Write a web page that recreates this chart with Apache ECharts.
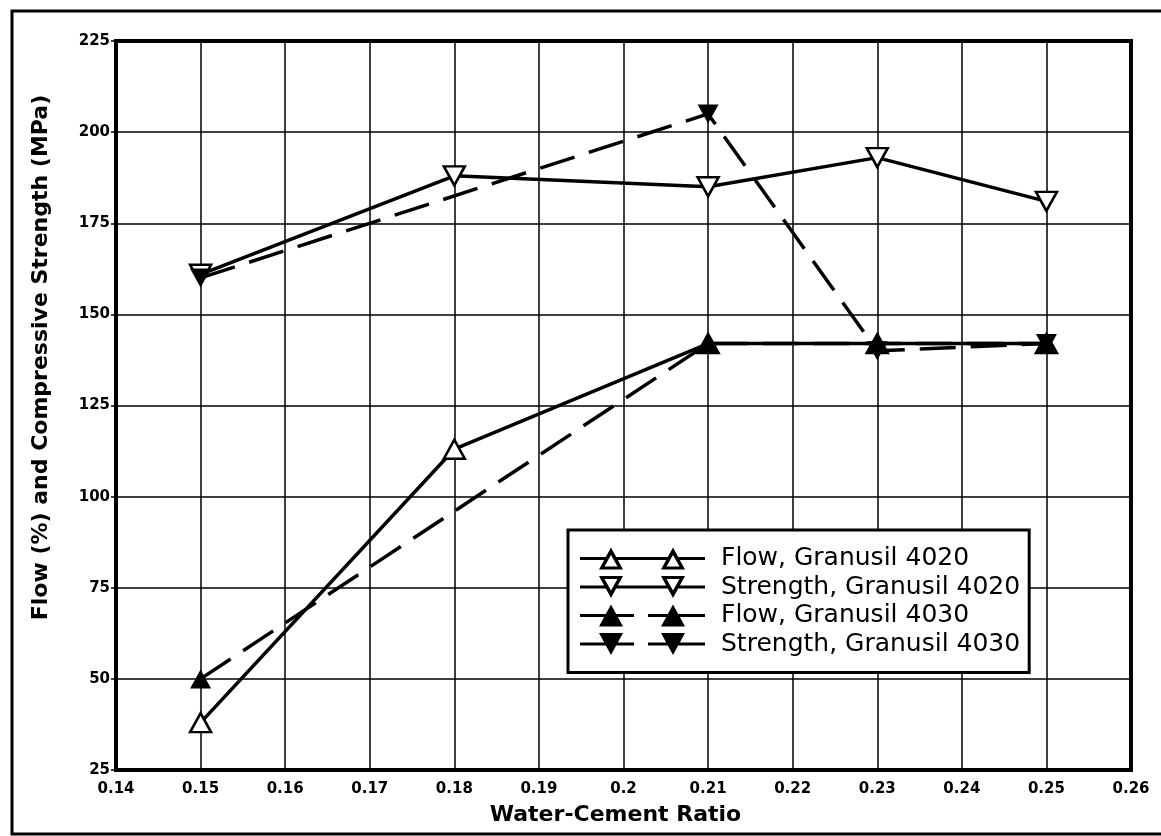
<!DOCTYPE html>
<html>
<head>
<meta charset="utf-8">
<script src="https://cdn.jsdelivr.net/npm/echarts@6/dist/echarts.min.js"></script>
<style>
html,body{margin:0;padding:0;background:#fff;}
#chart{width:1161px;height:836px;}
</style>
</head>
<body>
<div id="chart"></div>
<script>
// ---- data ----
const x4020 = [0.15, 0.18, 0.21, 0.23, 0.25];
const flow4020 = [38, 113, 142, 142, 142];
const strength4020 = [161, 188, 185, 193, 181];
const x4030 = [0.15, 0.21, 0.23, 0.25];
const flow4030 = [50, 142, 142, 142];
const strength4030 = [160, 205, 140, 142];
const seriesNames = ['Flow, Granusil 4020', 'Strength, Granusil 4020', 'Flow, Granusil 4030', 'Strength, Granusil 4030'];
const xTitle = 'Water-Cement Ratio';
const yTitle = 'Flow (%) and Compressive Strength (MPa)';

function pairs(xs, ys) { return xs.map((x, i) => [x, ys[i]]); }

// ---- legend icons (line + two triangles) ----
function rect(x0, x1) { return `M${x0} 9.5 L${x1} 9.5 L${x1} 12.5 L${x0} 12.5 Z `; }
function triUp(cx, open) {
  let p = `M${cx} 0 L${cx + 12} 22 L${cx - 12} 22 Z `;
  if (open) p += `M${cx} 7.5 L${cx - 6.5} 19 L${cx + 6.5} 19 Z `;
  return p;
}
function triDown(cx, open) {
  let p = `M${cx - 12} 0 L${cx + 12} 0 L${cx} 22 Z `;
  if (open) p += `M${cx - 6.5} 3 L${cx} 14.5 L${cx + 6.5} 3 Z `;
  return p;
}
const c1 = 31, c2 = 93;
function solidIcon(tri, open) {
  return 'path://' + rect(0, c1 - 5) + rect(c1 + 5, c2 - 5) + rect(c2 + 5, 125) + tri(c1, open) + tri(c2, open);
}
function dashedIcon(tri) {
  return 'path://' + rect(0, 54) + rect(68, 125) + tri(c1, false) + tri(c2, false);
}
const icons = [solidIcon(triUp, true), solidIcon(triDown, true), dashedIcon(triUp), dashedIcon(triDown)];

const chart = echarts.init(document.getElementById('chart'));

const lineW = 3.5;
const dash = [36, 15];
function mkSeries(name, data, symbolRotate, filled, dashed, z) {
  return {
    name: name,
    type: 'line',
    data: data,
    symbol: 'triangle',
    symbolSize: [21, 19],
    symbolRotate: symbolRotate,
    showSymbol: true,
    z: z,
    lineStyle: { color: '#000', width: lineW, type: dashed ? dash : 'solid' },
    itemStyle: { color: filled ? '#000' : '#fff', borderColor: '#000', borderWidth: filled ? 0 : 2.5 },
    emphasis: { disabled: true },
    animation: false
  };
}

const option = {
  animation: false,
  backgroundColor: '#fff',
  grid: { left: 116, right: 30, top: 41, bottom: 66, show: true, borderColor: '#000', borderWidth: 4 },
  xAxis: {
    type: 'value', min: 0.14, max: 0.26, interval: 0.01,
    name: xTitle, nameLocation: 'middle', nameGap: 34,
    nameTextStyle: { fontFamily: 'DejaVu Sans', fontWeight: 'bold', fontSize: 22, color: '#000', padding: [0, 16, 0, 0] },
    axisLine: { show: true, lineStyle: { color: '#000', width: 4 } },
    axisTick: { show: false },
    splitLine: { show: true, lineStyle: { color: '#000', width: 1.5 } },
    axisLabel: {
      color: '#000', fontFamily: 'DejaVu Sans', fontWeight: 'bold', fontSize: 15, margin: 12,
      formatter: v => String(+v.toFixed(2))
    }
  },
  yAxis: {
    type: 'value', min: 25, max: 225, interval: 25,
    name: yTitle, nameLocation: 'middle', nameGap: 64,
    nameTextStyle: { fontFamily: 'DejaVu Sans', fontWeight: 'bold', fontSize: 22, color: '#000', padding: [0, 0, 0, 96] },
    axisLine: { show: true, lineStyle: { color: '#000', width: 4 } },
    axisTick: { show: true, length: 5, lineStyle: { color: '#000', width: 1.5 } },
    splitLine: { show: true, lineStyle: { color: '#000', width: 1.5 } },
    axisLabel: { color: '#000', fontFamily: 'DejaVu Sans', fontWeight: 'bold', fontSize: 15, margin: 6 }
  },
  legend: {
    orient: 'vertical', left: 568, top: 530,
    padding: [16, 9, 16, 12],
    backgroundColor: '#fff', borderColor: '#000', borderWidth: 3,
    itemWidth: 125, itemHeight: 22, itemGap: 3.5,
    selectedMode: false,
    itemStyle: { color: '#000', borderWidth: 0 },
    textStyle: { fontFamily: 'DejaVu Sans', fontSize: 25, color: '#000', lineHeight: 20, padding: [0, 0, 0, 11] },
    data: seriesNames.map((n, i) => ({ name: n, icon: icons[i], itemStyle: { color: '#000', borderWidth: 0 } }))
  },
  graphic: [{
    type: 'rect', silent: true, z: 100,
    shape: { x: 12, y: 11, width: 1160, height: 823 },
    style: { fill: 'none', stroke: '#000', lineWidth: 3 }
  }],
  series: [
    mkSeries(seriesNames[0], pairs(x4020, flow4020), 0, false, false, 2),
    mkSeries(seriesNames[1], pairs(x4020, strength4020), 180, false, false, 3),
    mkSeries(seriesNames[2], pairs(x4030, flow4030), 0, true, true, 4),
    mkSeries(seriesNames[3], pairs(x4030, strength4030), 180, true, true, 5)
  ]
};
chart.setOption(option);
</script>
</body>
</html>
